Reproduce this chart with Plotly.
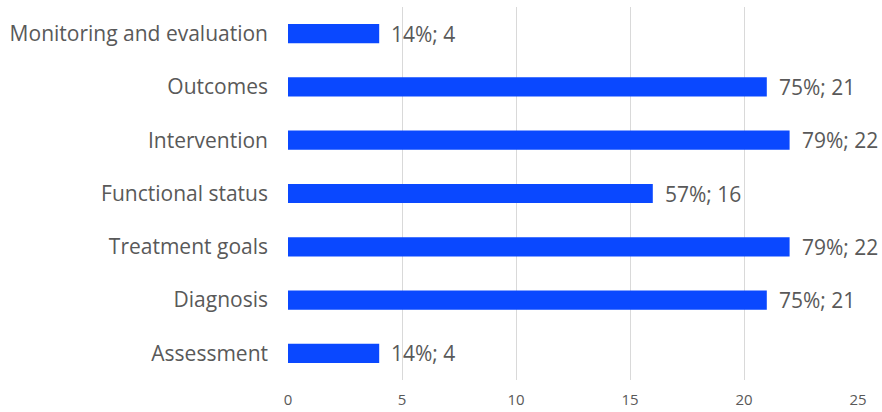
import plotly.graph_objects as go

categories = ["Assessment", "Diagnosis", "Treatment goals", "Functional status",
              "Intervention", "Outcomes", "Monitoring and evaluation"]
counts = [4, 21, 22, 16, 22, 21, 4]
percents = ["14%", "75%", "79%", "57%", "79%", "75%", "14%"]
tick_vals = [0, 5, 10, 15, 20, 25]

fig = go.Figure()
fig.add_trace(go.Bar(
    y=categories, x=counts, orientation="h",
    marker=dict(color="#0A48FF", line=dict(width=0)),
    hoverinfo="skip",
))
for c, v, p in zip(categories, counts, percents):
    fig.add_annotation(x=v, y=c, text=f"{p}; {v}", showarrow=False,
                       xanchor="left", xshift=10,
                       font=dict(size=21, color="#595959"))

fig.update_layout(
    width=882, height=412,
    margin=dict(l=288, r=24, t=7, b=32, autoexpand=False),
    paper_bgcolor="white", plot_bgcolor="white",
    bargap=0.64,
    showlegend=False,
    font=dict(family="Open Sans", color="#595959"),
    xaxis=dict(range=[0, 25], tickvals=tick_vals, showgrid=True,
               gridcolor="#D9D9D9", gridwidth=1, zeroline=False,
               showline=False, ticks="", ticklabelstandoff=9,
               automargin=False,
               tickfont=dict(size=15, color="#595959")),
    yaxis=dict(categoryorder="array", categoryarray=categories,
               ticks="", ticklen=0, showline=False, ticklabelstandoff=19,
               automargin=False,
               tickfont=dict(size=21, color="#595959")),
)
fig.write_html("out.html")
